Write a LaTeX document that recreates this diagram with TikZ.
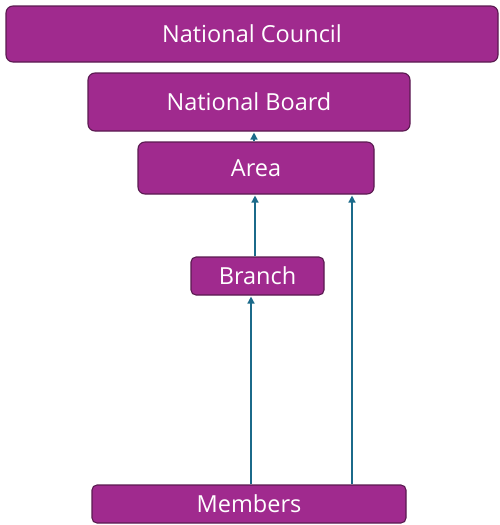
\documentclass[tikz,border=0pt]{standalone}
\usepackage{fontspec}
\setmainfont{Open Sans}
\usetikzlibrary{arrows.meta}
\definecolor{boxfill}{HTML}{A02A8E}
\definecolor{boxline}{HTML}{5A1A50}
\definecolor{arrcol}{HTML}{1B6A8A}
\begin{document}
\begin{tikzpicture}[x=1pt,y=-1pt,
  box/.style={draw=boxline, fill=boxfill, line width=1.1pt, rounded corners=7pt,
    text=white, font=\fontsize{23.5}{28}\selectfont, inner sep=0pt, anchor=center},
  arr/.style={draw=arrcol, line width=1.4pt, -{Triangle[length=7pt,width=7pt]}, shorten >=1pt}]
\useasboundingbox (0,0) rectangle (499,525);
\node[box, minimum width=492pt, minimum height=56pt] (council) at (252,34) {National Council};
\node[box, minimum width=322pt, minimum height=58pt] (board) at (249,102) {National Board};
\node[box, minimum width=236pt, minimum height=52pt] (area) at (256,168) {Area};
\node[box, minimum width=133pt, minimum height=38pt, rounded corners=5pt] (branch) at (257.5,276) {Branch};
\node[box, minimum width=314pt, minimum height=38pt, rounded corners=5pt] (members) at (249,504) {Members};
\draw[arr] (area.north -| 254,0) -- (board.south -| 254,0);
\draw[arr] (branch.north -| 255,0) -- (area.south -| 255,0);
\draw[arr] (members.north -| 352,0) -- (area.south -| 352,0);
\draw[arr] (members.north -| 251,0) -- (branch.south -| 251,0);
\end{tikzpicture}
\end{document}
